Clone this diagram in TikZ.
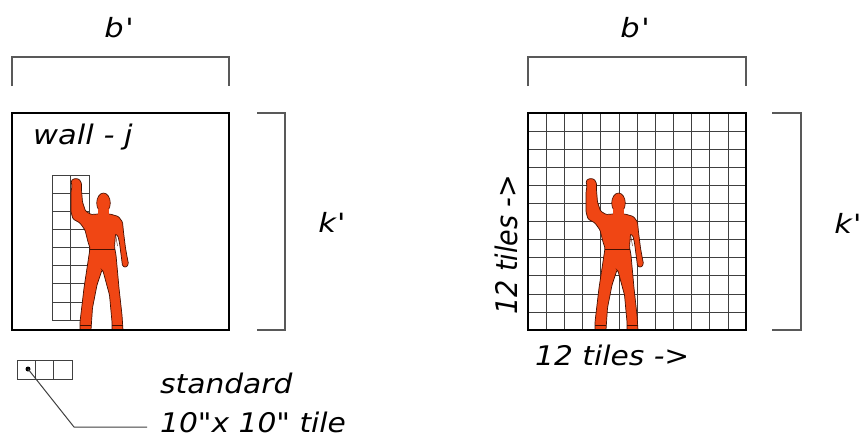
\documentclass[tikz,border=0pt]{standalone}
\usepackage{fontspec}
\newfontfamily\vf{DejaVu Sans}
\definecolor{manred}{RGB}{240,70,20}
\definecolor{manline}{RGB}{70,15,0}
\begin{document}
\begin{tikzpicture}[x=1pt,y=-1pt,
  box/.style={draw=black,line width=1.8pt},
  gl/.style={draw=black!75,line width=0.6pt},
  brk/.style={draw=black!65,line width=1.1pt},
  lbl/.style={font=\vf\itshape\fontsize{27}{31}\selectfont,inner sep=0pt},
  dimlbl/.style={font=\vf\itshape\fontsize{26.5}{30}\selectfont,inner sep=0pt,xscale=1.15},
  man/.pic={
    \filldraw[fill=manred,draw=manline,line width=0.7pt,rounded corners=1.2pt]
      (80,330) -- (80,322) -- (84,288) -- (89,255) -- (90,248) -- (88,242)
      -- (85,230) -- (80,223) -- (73,219) -- (71,212) -- (71,192) -- (72,186)
      -- (71,181) -- (74,178.5) -- (79,179) -- (81.5,183) -- (81.5,190) -- (82.5,202)
      -- (85.5,211) -- (91,214.5) -- (98,214) -- (110,214) -- (118.5,216.5) -- (122.5,222)
      -- (123.5,232) -- (125.5,248) -- (127.5,259) -- (128.5,264) -- (126,267.5)
      -- (122.5,266) -- (121.5,258) -- (119.5,243) -- (118,236) -- (115.5,234)
      -- (114.5,247) -- (116,255) -- (119,288) -- (122,315) -- (123,330)
      -- (112,330) -- (112,322) -- (109.5,295) -- (103,271) -- (102,270)
      -- (97,285) -- (92.5,308) -- (91,330) -- cycle;
    \filldraw[fill=manred,draw=manline,line width=0.6pt] (103.5,203) ellipse [x radius=6.8, y radius=10];
    \fill[manred] (98,209) rectangle (109,216);
    \draw[manline,line width=1.1pt] (90,249.5) -- (114.5,249.5);
    \draw[manline,line width=0.4pt] (115.5,234) -- (117.5,246);
    \draw[manline,line width=0.8pt] (80,325) -- (91,325) (112,325) -- (123,325);
  }]
\useasboundingbox (0,0) rectangle (863,440);
\fill[white] (0,0) rectangle (863,440);

% ---------- left wall ----------
\foreach \i in {0,...,8} \draw[gl] (52,{175+\i*18.125}) -- (89,{175+\i*18.125});
\foreach \xx in {52,70.5,89} \draw[gl] (\xx,175) -- (\xx,320);
\pic at (0,0) {man};
\draw[box] (12,113) rectangle (229,330);
\node[lbl,xscale=1.13,anchor=base west] (wall) at (33,144) {wall - j};

% top bracket left
\draw[brk] (12,86) -- (12,57) -- (229,57) -- (229,86);
\node[dimlbl,anchor=base] (bl) at (119,37) {b\kern1.5pt'};
% side bracket left
\draw[brk] (257,113) -- (285,113) -- (285,330) -- (257,330);
\node[dimlbl,anchor=base] (kl) at (332,232) {k\kern1pt'};

% ---------- right wall ----------
\foreach \i in {1,...,11} {
  \draw[gl] ({528+\i*18.1667},113) -- ({528+\i*18.1667},330);
  \draw[gl] (528,{113+\i*18.0833}) -- (746,{113+\i*18.0833});
}
\pic at (515,0) {man};
\draw[box] (528,113) rectangle (746,330);
\node[lbl,xscale=1.1,rotate=90,anchor=base west] (tv) at (517,315) {12 tiles ->};
\node[lbl,xscale=1.1,anchor=base west] (th) at (535,365) {12 tiles ->};

\draw[brk] (528,86) -- (528,57) -- (746,57) -- (746,86);
\node[dimlbl,anchor=base] (br) at (635,37) {b\kern1.5pt'};
\draw[brk] (772,113) -- (801,113) -- (801,330) -- (772,330);
\node[dimlbl,anchor=base] (kr) at (848,233) {k\kern1pt'};

% ---------- standard tile ----------
\draw[gl,line width=0.8pt] (17,360) rectangle (72,379);
\draw[gl,line width=0.8pt] (35.3,360) -- (35.3,379) (53.7,360) -- (53.7,379);
\coordinate (dot) at (28,369);
\coordinate (bend) at (74,427);
\coordinate (lend) at (147,427);
\fill (dot) circle [radius=2.5];
\draw[black!75,line width=1pt] (dot) -- (bend) -- (lend);
\node[lbl,xscale=1.1,anchor=base west] (std1) at (160,393) {standard};
\node[lbl,xscale=1.1,anchor=base west] (std2) at (160,432) {10"x 10" tile};
\end{tikzpicture}
\end{document}
